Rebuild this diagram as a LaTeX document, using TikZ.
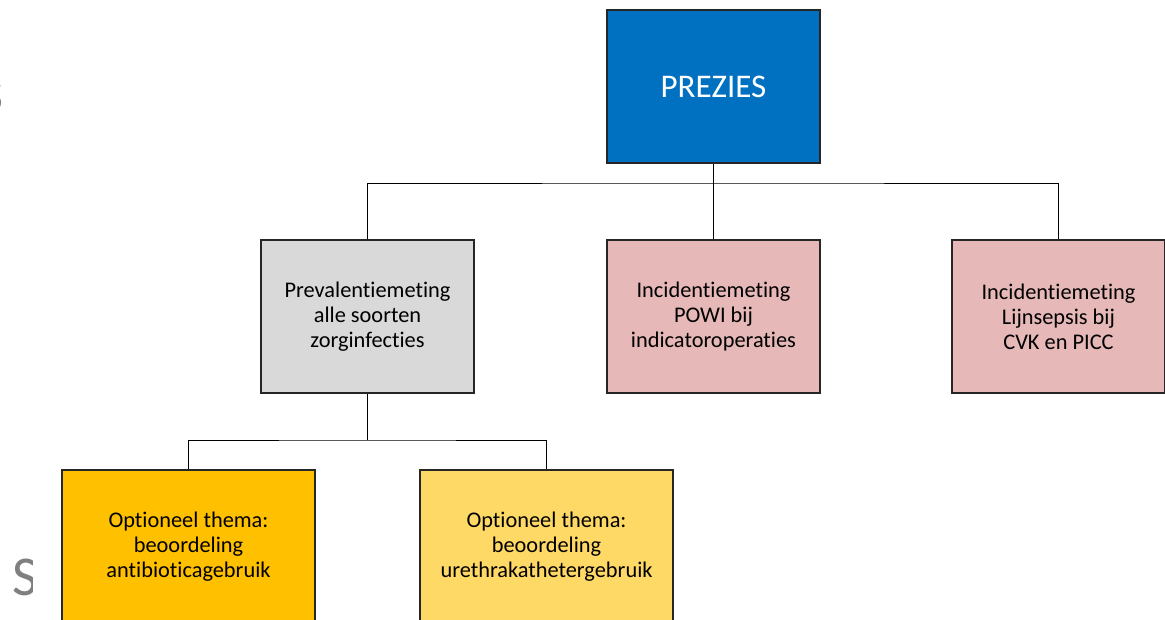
\documentclass[tikz,border=0pt]{standalone}
\usepackage{fontspec}
\setmainfont{Carlito}[Ligatures=NoCommon]
\usepackage{tikz}
\usetikzlibrary{positioning}
\definecolor{prezblue}{HTML}{0070C0}
\definecolor{prevgray}{HTML}{D9D9D9}
\definecolor{incpink}{HTML}{E6B8B7}
\definecolor{optorange}{HTML}{FFC000}
\definecolor{optyellow}{HTML}{FFD966}
\definecolor{slidegray}{HTML}{7F7F7F}
\tikzset
{
    orgbox/.style = {rectangle, draw=black!85, line width=0.8pt, align=center, minimum width=5.325cm, minimum height=3.825cm, inner sep=0pt, font=\fontsize{15.9}{17.8}\selectfont},
    widebox/.style = {orgbox, minimum width=6.325cm},
    topbox/.style = {orgbox, fill=prezblue, text=white, font=\fontsize{23.5}{26}\selectfont},
    link/.style = {draw=black, line width=0.6pt}
}

\begin{document}
\begin{tikzpicture}[x=0.025cm, y=-0.025cm]
	\useasboundingbox (0,0) rectangle (1165,619);
	% stukjes tekst van de dia erachter
	\node[text=slidegray, anchor=east, font=\fontsize{42}{42}\selectfont] (frag1) at (9,97) {s};
	\begin{scope}
		\clip (0,0) rectangle (32,619);
		\node[text=slidegray, anchor=west, inner sep=0pt, font=\fontsize{40}{40}\selectfont] (frag2) at (12,577) {S};
	\end{scope}
	% bovenste niveau
	\node[topbox] (prezies) at (713.5,86.5) {PREZIES};
	% tweede niveau
	\node[orgbox, fill=prevgray] (prev) at (367.5,316.5) {Prevalentiemeting\\alle soorten\\zorginfecties};
	\node[orgbox, fill=incpink] (powi) at (713.5,316.5) {Incidentiemeting\\POWI bij\\indicatoroperaties};
	\node[orgbox, fill=incpink] (lijn) at (1058.5,316.5) {Incidentiemeting\\Lijnsepsis bij\\CVK en PICC};
	% derde niveau
	\node[widebox, fill=optorange] (anti) at (188.5,546.5) {Optioneel thema:\\beoordeling\\antibioticagebruik};
	\node[widebox, fill=optyellow] (ureth) at (546.5,546.5) {Optioneel thema:\\beoordeling\\urethrakathetergebruik};
	% verbindingen
	\coordinate (topbus) at (713.5,183);
	\coordinate (subbus) at (367.5,440);
	\draw[link] (prezies.south) -- (topbus);
	\draw[link] (prev.north) |- (topbus) -| (lijn.north);
	\draw[link] (powi.north) -- (topbus);
	\draw[link] (prev.south) -- (subbus);
	\draw[link] (anti.north) |- (subbus) -| (ureth.north);
\end{tikzpicture}
\end{document}
